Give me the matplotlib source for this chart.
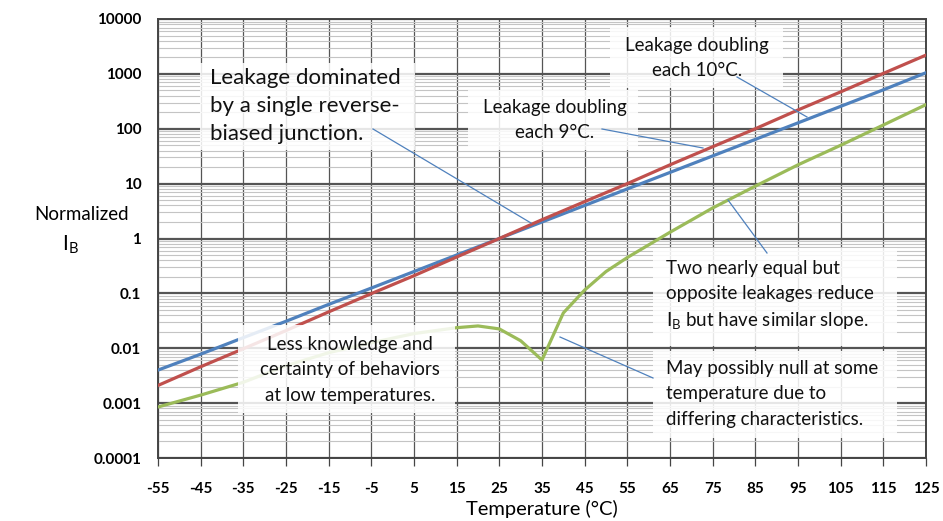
import matplotlib
matplotlib.use("Agg")
import matplotlib.pyplot as plt
from matplotlib.patches import FancyBboxPatch
from matplotlib.ticker import LogLocator, NullFormatter, FixedLocator

plt.rcParams["font.family"] = ["Lato", "DejaVu Sans"]

# data (normalized base current vs temperature)
temps = [-55, -45, -35, -25, -15, -5, 5, 15, 25, 35, 45, 55, 65, 75, 85, 95, 105, 115, 125]
ib_10c = [0.0040, 0.0078, 0.0156, 0.031, 0.063, 0.125, 0.25, 0.5, 1.0, 2.0, 4.0, 8.0,
          16, 32, 64, 128, 256, 512, 1050]
ib_9c = [0.0021, 0.0046, 0.0098, 0.021, 0.046, 0.099, 0.21, 0.46, 1.0, 2.2, 4.7, 10,
         22, 47, 100, 220, 470, 1020, 2200]
temps_null = [-55, -45, -35, -25, -15, -5, 5, 15, 20, 25, 30, 35, 40, 45, 50, 55,
              65, 75, 85, 95, 105, 115, 125]
ib_null = [0.00085, 0.0014, 0.0024, 0.0048, 0.0083, 0.0126, 0.0185, 0.0237, 0.0255,
           0.0225, 0.0137, 0.0061, 0.044, 0.115, 0.25, 0.45, 1.3, 3.6, 9.0, 22, 50,
           117, 275]

x_ticks = temps
y_ticks = [0.0001, 0.001, 0.01, 0.1, 1, 10, 100, 1000, 10000]
y_labels = ["0.0001", "0.001", "0.01", "0.1", "1", "10", "100", "1000", "10000"]

W, H = 943, 521
fig = plt.figure(figsize=(W / 100, H / 100), dpi=100)
L, R, T, B = 158, 926, 19, 458
ax = fig.add_axes([L / W, 1 - B / H, (R - L) / W, (B - T) / H])


def px(x, y):
    # image pixel -> axes fraction
    return (x - L) / (R - L), (B - y) / (B - T)


ax.set_yscale("log")
ax.set_xlim(-55, 125)
ax.set_ylim(1e-4, 1e4)
ax.xaxis.set_major_locator(FixedLocator(x_ticks))
ax.set_xticklabels([str(t) for t in x_ticks], fontweight="bold", fontsize=11)
ax.yaxis.set_major_locator(FixedLocator(y_ticks))
ax.set_yticklabels(y_labels, fontweight="bold", fontsize=11)
ax.yaxis.set_minor_locator(LogLocator(base=10, subs=range(2, 10), numticks=20))
ax.yaxis.set_minor_formatter(NullFormatter())

ax.grid(True, axis="y", which="minor", color="#c4c4c4", lw=0.8, zorder=0)
ax.grid(True, axis="y", which="major", color="#555555", lw=1.6, zorder=1)
ax.grid(True, axis="x", which="major", color="#555555", lw=0.9, zorder=1)
ax.set_axisbelow(True)
for s in ax.spines.values():
    s.set_color("#444444")
    s.set_linewidth(1.4)
ax.tick_params(axis="x", which="major", length=6, width=0.9, color="#444444", pad=11)
ax.tick_params(axis="y", which="major", length=0, pad=12)
ax.tick_params(axis="y", which="minor", length=0)

ax.plot(temps, ib_10c, color="#4F81BD", lw=2.3, zorder=3)
ax.plot(temps, ib_9c, color="#C0504D", lw=2.3, zorder=3)
ax.plot(temps_null, ib_null, color="#9BBB59", lw=2.3, zorder=3)

ax.set_xlabel("Temperature (\u00b0C)", fontsize=14.5, labelpad=3)
fig.text(82 / W, 1 - 215 / H, "Normalized", fontsize=13.5, ha="center", va="center")
fig.text(70 / W, 1 - 245 / H, "I$_\\mathregular{B}$", fontsize=15, ha="center", va="center")


def box(x0, y0, x1, y1):
    ax0, ay1 = px(x0, y0)
    ax1, ay0 = px(x1, y1)
    p = FancyBboxPatch((ax0, ay0), ax1 - ax0, ay1 - ay0, boxstyle="square,pad=0",
                       transform=ax.transAxes, facecolor="white", edgecolor="none",
                       alpha=0.86, zorder=5, clip_on=False)
    ax.add_patch(p)


def note(x, y, s, ha="left", fs=13.5, ls=1.58):
    ax.text(*px(x, y), s, transform=ax.transAxes, ha=ha, va="center", fontsize=fs,
            multialignment=ha, linespacing=ls, zorder=6, color="#111111")


def leader(p1, p2):
    a, b = px(*p1)
    c, d = px(*p2)
    ax.plot([a, c], [b, d], transform=ax.transAxes, color="#4F81BD", lw=0.9, zorder=6,
            clip_on=False)


box(200, 63, 415, 150)
note(210, 106, "Leakage dominated\nby a single reverse-\nbiased junction.", fs=16, ls=1.5)
leader((373, 129), (531, 223))

box(610, 27, 783, 88)
note(697, 58, "Leakage doubling\neach 10\u00b0C.", ha="center")
leader((737, 77), (807, 117))

box(468, 90, 638, 150)
note(555, 120, "Leakage doubling\neach 9\u00b0C.", ha="center")
leader((602, 129), (703, 148))

box(653, 248, 897, 346)
note(666, 296, "Two nearly equal but\nopposite leakages reduce\nI$_\\mathregular{B}$ but have similar slope.")
leader((728, 200), (767, 253))

box(653, 351, 897, 438)
note(666, 394, "May possibly null at some\ntemperature due to\ndiffering characteristics.")
leader((560, 337), (653, 378))

box(238, 325, 455, 413)
note(350, 370, "Less knowledge and\ncertainty of behaviors\nat low temperatures.", ha="center")

fig.savefig("out.png", dpi=100)
